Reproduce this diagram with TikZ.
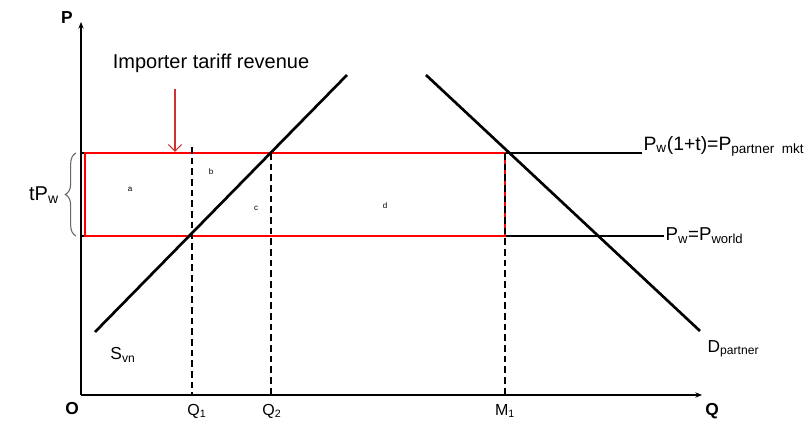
\documentclass[tikz,border=0pt]{standalone}
\usepackage{fontspec}
\setmainfont{Liberation Sans}
\usetikzlibrary{arrows.meta,decorations.pathreplacing,positioning}

\begin{document}
\begin{tikzpicture}[x=0.75pt,y=-0.75pt]
  \tikzset{
    axis/.style={black, line width=0.8pt, -{Stealth[length=5pt,width=4pt]}},
    curve/.style={black, line width=2pt},
    price/.style={black, line width=0.8pt},
    guide/.style={black, dashed, dash pattern=on 5pt off 3pt, line width=0.8pt},
    revbox/.style={red, line width=1pt},
    lbl/.style={font=\fontsize{12}{14}\selectfont, inner sep=1pt},
    axlbl/.style={font=\fontsize{13}{15}\selectfont\bfseries, inner sep=1pt},
    area/.style={font=\fontsize{6}{7}\selectfont, inner sep=0pt}
  }
  \useasboundingbox (0,0) rectangle (808,438);

  % axes
  \coordinate (o) at (81,395);
  \coordinate (ptop) at (81,22);
  \coordinate (qend) at (702,395);
  \draw[axis] (o) -- (ptop);
  \draw[axis] (o) -- (qend);
  \node[axlbl] (plbl) at (67,18) {P};
  \node[axlbl] (qlbl) at (712,411) {Q};
  \node[axlbl] (olbl) at (72,409) {O};

  % price lines
  \node[lbl, anchor=west, font=\fontsize{14.5}{16}\selectfont] (ptar) at (642,146)
    {P\textsubscript{w}(1+t)=P\textsubscript{partner~~mkt}};
  \node[lbl, anchor=west, font=\fontsize{14}{16}\selectfont] (pwld) at (664,236)
    {P\textsubscript{w}=P\textsubscript{world}};
  \coordinate (tl) at (81,153);
  \coordinate (bl) at (81,236);
  \draw[price] (tl) -- (642,153);
  \draw[price] (bl) -- (pwld.west |- bl);

  % tariff revenue box
  \coordinate (boxa) at (85,153);
  \coordinate (boxb) at (505,236);
  \draw[revbox] (boxa) rectangle (boxb);

  % quantity guides
  \coordinate (q1) at (192,395);
  \coordinate (q2) at (271,395);
  \coordinate (m1) at (505,395);
  \draw[guide] (192,147) -- (q1);
  \draw[guide] (271,153) -- (q2);
  \draw[guide] (505,153) -- (m1);
  \node[lbl] (q1lbl) at (197,411) {Q\textsubscript{1}};
  \node[lbl] (q2lbl) at (272,411) {Q\textsubscript{2}};
  \node[lbl] (m1lbl) at (505,411) {M\textsubscript{1}};

  % supply and demand
  \coordinate (s0) at (95,332);
  \coordinate (s1) at (347,75);
  \coordinate (d0) at (426,75);
  \coordinate (d1) at (700,331);
  \draw[curve] (s0) -- (s1);
  \draw[curve] (d0) -- (d1);
  \node[lbl, font=\fontsize{13}{15}\selectfont] (slbl) at (123,355) {S\textsubscript{vn}};
  \node[lbl, anchor=west, font=\fontsize{13}{15}\selectfont] (dlbl) at (706,349) {D\textsubscript{partner}};

  % areas
  \node[area] (aa) at (130,189) {a};
  \node[area] (ab) at (211,172) {b};
  \node[area] (ac) at (256,208) {c};
  \node[area] (ad) at (385,206) {d};

  % tariff width and revenue arrow
  \draw[black!60, line width=0.8pt, decorate, decoration={brace, amplitude=8pt}]
    (76,236) -- (76,153);
  \node[lbl, font=\fontsize{15}{17}\selectfont] (tpw) at (44,195) {tP\textsubscript{w}};
  \node[lbl, font=\fontsize{15}{17}\selectfont] (rev) at (211,63) {Importer tariff revenue};
  \coordinate (revtip) at (175,152);
  \draw[red!75!black!80, line width=0.8pt, -{Straight Barb[length=5pt]}] (175,89) -- (revtip);
\end{tikzpicture}
\end{document}
